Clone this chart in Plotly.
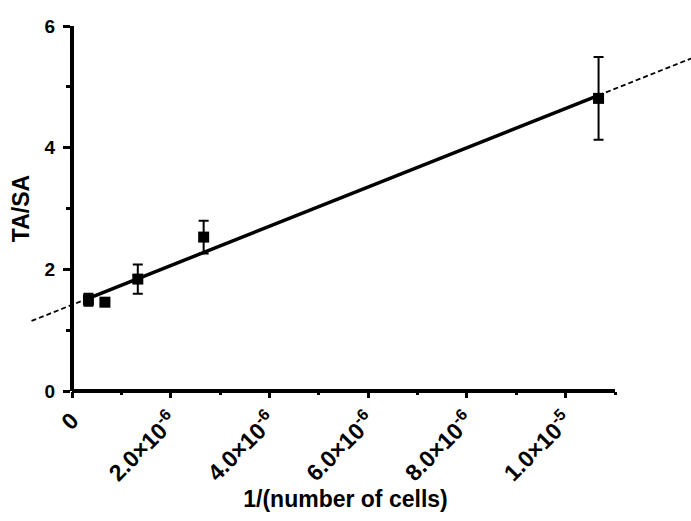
import numpy as np
import plotly.graph_objects as go

# data: 1/(number of cells) vs TA/SA
x_vals = [3.333e-7, 6.667e-7, 1.333e-6, 2.667e-6, 1.0667e-5]
y_vals = [1.50, 1.46, 1.84, 2.53, 4.81]
y_err = [0.10, 0.04, 0.24, 0.27, 0.68]

x_tick_vals = [0, 2e-6, 4e-6, 6e-6, 8e-6, 1e-5]
x_minor_vals = [1e-6, 3e-6, 5e-6, 7e-6, 9e-6, 1.1e-5]
x_tick_text = ["0", "2.0×10<sup>-6</sup>", "4.0×10<sup>-6</sup>", "6.0×10<sup>-6</sup>",
               "8.0×10<sup>-6</sup>", "1.0×10<sup>-5</sup>"]
y_tick_vals = [0, 2, 4, 6]
x_range = [0, 1.1e-5]
y_range = [0, 6]
extrap_range = [-0.82e-6, 1.35e-5]

# linear regression
slope, intercept = np.polyfit(x_vals, y_vals, 1)

W, H = 691, 521
ml, mr, mt, mb = 0, 0, 26, 130
x_left_px, x_right_px = 72, 615
scale = (x_right_px - x_left_px) / (x_range[1] - x_range[0])
# full-width axis so the extrapolated dashed line can run past the axis frame
x_full_range = [x_range[0] - x_left_px / scale, x_range[1] + (W - x_right_px) / scale]

FONT = "Liberation Sans, Arial, Helvetica, sans-serif"

fig = go.Figure()

# dashed extrapolation
xl = [extrap_range[0], x_vals[0], None, x_vals[-1], extrap_range[1]]
yl = [intercept + slope * v if v is not None else None for v in xl]
fig.add_trace(go.Scatter(x=xl, y=yl, mode="lines",
                         line=dict(color="black", width=1.8, dash="5px,3px"),
                         hoverinfo="skip", showlegend=False))

# solid fit line over data range
xs = [x_vals[0], x_vals[-1]]
fig.add_trace(go.Scatter(x=xs, y=[intercept + slope * v for v in xs], mode="lines",
                         line=dict(color="black", width=3.5), showlegend=False))

# data points
fig.add_trace(go.Scatter(x=x_vals, y=y_vals, mode="markers",
                         marker=dict(symbol="square", size=11, color="black"),
                         error_y=dict(type="data", array=y_err, color="black",
                                      thickness=2, width=5),
                         showlegend=False))

# axis frame lines (x axis over its range, y axis at x = 0)
fig.add_shape(type="line", xref="x", yref="paper", x0=x_range[0], x1=x_range[1],
              y0=0, y1=0, line=dict(color="black", width=4), layer="above")
fig.add_shape(type="line", xref="x", yref="paper", x0=x_range[0], x1=x_range[0],
              y0=0, y1=1, line=dict(color="black", width=4), layer="above")

fig.update_layout(
    width=W, height=H,
    margin=dict(l=ml, r=mr, t=mt, b=mb, autoexpand=False),
    paper_bgcolor="white", plot_bgcolor="white",
    font=dict(family=FONT, color="black"),
    xaxis=dict(domain=[0, 1], range=x_full_range, showgrid=False,
               zeroline=False, showline=False,
               tickmode="array", tickvals=x_tick_vals, ticktext=x_tick_text,
               ticks="outside", ticklen=6, tickwidth=3, tickcolor="black",
               tickangle=-45, tickfont=dict(size=23, family=FONT, weight="bold"),
               minor=dict(tickmode="array", tickvals=x_minor_vals, ticks="outside",
                          ticklen=3, tickwidth=3, tickcolor="black"),
               title=dict(text="1/(number of cells)",
                          font=dict(size=23, family=FONT, weight="bold"), standoff=5)),
    yaxis=dict(range=y_range, showgrid=False, zeroline=False,
               showline=True, linecolor="black", linewidth=4,
               anchor="free", position=x_left_px / W,
               tickmode="array", tickvals=y_tick_vals,
               ticks="outside", ticklen=7, tickwidth=3, tickcolor="black",
               ticklabelstandoff=4,
               tickfont=dict(size=19, family=FONT, weight="bold"),
               minor=dict(dtick=1, tick0=0, ticks="outside", ticklen=4,
                          tickwidth=3, tickcolor="black"),
               title=dict(text="TA/SA", font=dict(size=23, family=FONT, weight="bold"),
                          standoff=8)),
)

fig.write_html("out.html")
